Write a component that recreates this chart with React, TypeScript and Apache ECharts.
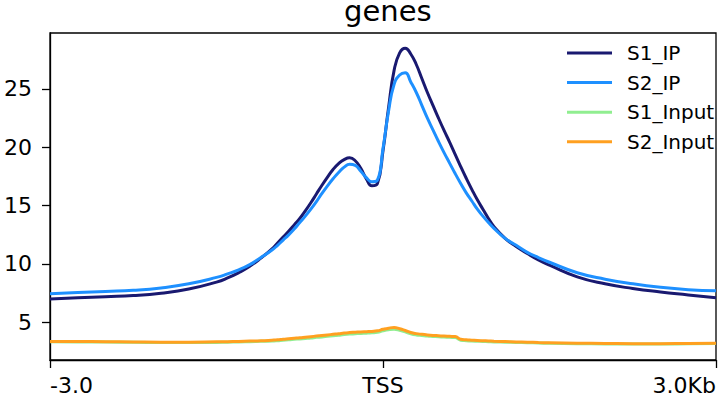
import * as echarts from "echarts";
import { useEffect, useRef } from "react";

// bin positions in bp relative to TSS
const positions = [
  -3000, -2750, -2500, -2250, -2000, -1750, -1500, -1400, -1300, -1200, -1100,
  -1000, -950, -900, -850, -800, -750, -700, -650, -600, -550, -500, -450, -400, -350, -300, -250, -200, -150, -100, -50,
  0, 50, 100, 150, 200, 250, 300, 350, 400, 450, 500, 550, 600, 650, 700, 750, 800, 850, 900, 950, 1000,
  1100, 1200, 1300, 1400, 1500, 1750, 2000, 2250, 2500, 2750, 3000,
];

const s1IP = [
  7.0, 7.1, 7.2, 7.3, 7.5, 7.85, 8.45, 8.8, 9.25, 9.8, 10.5,
  11.3, 11.8, 12.3, 12.8, 13.35, 13.9, 14.55, 15.25, 16.0, 16.75, 17.45, 18.1, 18.6, 18.95, 19.1, 18.85, 18.2, 17.3, 16.7, 16.9,
  19.7, 23.4, 26.6, 28.1, 28.5, 28.0, 27.1, 25.9, 24.7, 23.6, 22.5, 21.45, 20.45, 19.4, 18.35, 17.35, 16.4, 15.5, 14.7, 13.9, 13.2,
  12.2, 11.5, 10.9, 10.35, 9.9, 8.9, 8.3, 7.9, 7.6, 7.35, 7.1,
];

const s2IP = [
  7.45, 7.55, 7.65, 7.75, 7.95, 8.3, 8.85, 9.15, 9.5, 9.95, 10.55,
  11.2, 11.6, 12.05, 12.5, 13.0, 13.55, 14.1, 14.7, 15.35, 16.05, 16.7, 17.3, 17.85, 18.3, 18.55, 18.45, 17.95, 17.4, 17.05, 17.2,
  19.9, 23.1, 25.4, 26.2, 26.4, 25.6, 24.7, 23.6, 22.5, 21.5, 20.5, 19.55, 18.65, 17.75, 16.9, 16.1, 15.4, 14.7, 14.1, 13.55, 13.05,
  12.2, 11.6, 11.0, 10.55, 10.15, 9.25, 8.7, 8.3, 8.0, 7.8, 7.7,
];

const s1Input = [
  3.33, 3.32, 3.31, 3.29, 3.27, 3.26, 3.28, 3.3, 3.31, 3.34, 3.37,
  3.4, 3.43, 3.47, 3.5, 3.54, 3.58, 3.62, 3.66, 3.71, 3.75, 3.8, 3.85, 3.9, 3.95, 3.99, 4.02, 4.05, 4.07, 4.1, 4.15,
  4.27, 4.36, 4.4, 4.32, 4.18, 4.02, 3.92, 3.87, 3.82, 3.79, 3.76, 3.74, 3.71, 3.69, 3.47, 3.43, 3.4, 3.38, 3.36, 3.34, 3.32,
  3.3, 3.28, 3.25, 3.23, 3.2, 3.17, 3.15, 3.14, 3.14, 3.16, 3.18,
];

const s2Input = [
  3.35, 3.35, 3.34, 3.32, 3.3, 3.3, 3.33, 3.34, 3.36, 3.39, 3.42,
  3.47, 3.5, 3.55, 3.59, 3.63, 3.67, 3.72, 3.77, 3.82, 3.87, 3.92, 3.97, 4.02, 4.08, 4.12, 4.15, 4.18, 4.2, 4.22, 4.27,
  4.4, 4.5, 4.55, 4.45, 4.3, 4.13, 4.03, 3.97, 3.92, 3.88, 3.85, 3.82, 3.8, 3.78, 3.55, 3.5, 3.47, 3.44, 3.42, 3.4, 3.38,
  3.35, 3.32, 3.3, 3.27, 3.25, 3.21, 3.19, 3.17, 3.17, 3.19, 3.2,
];

const seriesNames = ["S1_IP", "S2_IP", "S1_Input", "S2_Input"];
const seriesColors = ["#191970", "#1e90ff", "#90ee90", "#ffa020"];
const seriesValues = [s1IP, s2IP, s1Input, s2Input];

const xTickValues = [-3000, 0, 3000];
const xTickLabels = ["-3.0", "TSS", "3.0Kb"];
const yTickValues = [5, 10, 15, 20, 25];

const FONT = "DejaVu Sans";

export default function App() {
  const chartRef = useRef<HTMLDivElement | null>(null);

  useEffect(() => {
    if (!chartRef.current) return;
    const chart = echarts.init(chartRef.current, undefined, { renderer: "svg" });

    const series: echarts.SeriesOption[] = seriesNames.map((name, i) => ({
      name,
      type: "line",
      showSymbol: false,
      smooth: 0.5,
      lineStyle: { color: seriesColors[i], width: 3 },
      itemStyle: { color: seriesColors[i] },
      data: positions.map((p, j) => [p, seriesValues[i][j]]),
    }));

    chart.setOption({
      animation: false,
      backgroundColor: "#fff",
      title: {
        text: "genes",
        left: 339,
        top: -9,
        textStyle: { fontFamily: FONT, fontSize: 29, fontWeight: "normal", color: "#000" },
      },
      legend: {
        orient: "vertical",
        left: 562,
        top: 38,
        itemWidth: 45,
        itemHeight: 3,
        itemGap: 9.6,
        icon: "rect",
        data: seriesNames,
        textStyle: { fontFamily: FONT, fontSize: 20, color: "#000", padding: [0, 0, 0, 10] },
      },
      grid: {
        left: 50,
        right: 5,
        top: 33,
        bottom: 40,
        show: true,
        borderColor: "#000",
        borderWidth: 1.3,
        backgroundColor: "transparent",
      },
      xAxis: {
        type: "value",
        min: -3000,
        max: 3000,
        axisLine: { show: true, onZero: false, lineStyle: { color: "#000", width: 1.3 } },
        axisTick: {
          show: true,
          length: 8,
          lineStyle: { color: "#000", width: 1.3 },
          customValues: xTickValues,
        },
        axisLabel: {
          customValues: xTickValues,
          formatter: (v: number) => xTickLabels[xTickValues.indexOf(v)] ?? "",
          fontFamily: FONT,
          fontSize: 22,
          color: "#000",
          margin: 14,
          alignMinLabel: "left",
          alignMaxLabel: "right",
        },
        splitLine: { show: false },
      },
      yAxis: {
        type: "value",
        min: 1.77,
        max: 29.8,
        axisLine: { show: true, onZero: false, lineStyle: { color: "#000", width: 1.3 } },
        axisTick: {
          show: true,
          length: 8,
          lineStyle: { color: "#000", width: 1.3 },
          customValues: yTickValues,
        },
        axisLabel: {
          customValues: yTickValues,
          fontFamily: FONT,
          fontSize: 22,
          color: "#000",
          margin: 18,
        },
        splitLine: { show: false },
      },
      series,
    });

    return () => {
      chart.dispose();
    };
  }, []);

  return (
    <div
      ref={chartRef}
      style={{ position: "fixed", left: 0, top: 0, width: 721, height: 400 }}
    />
  );
}
